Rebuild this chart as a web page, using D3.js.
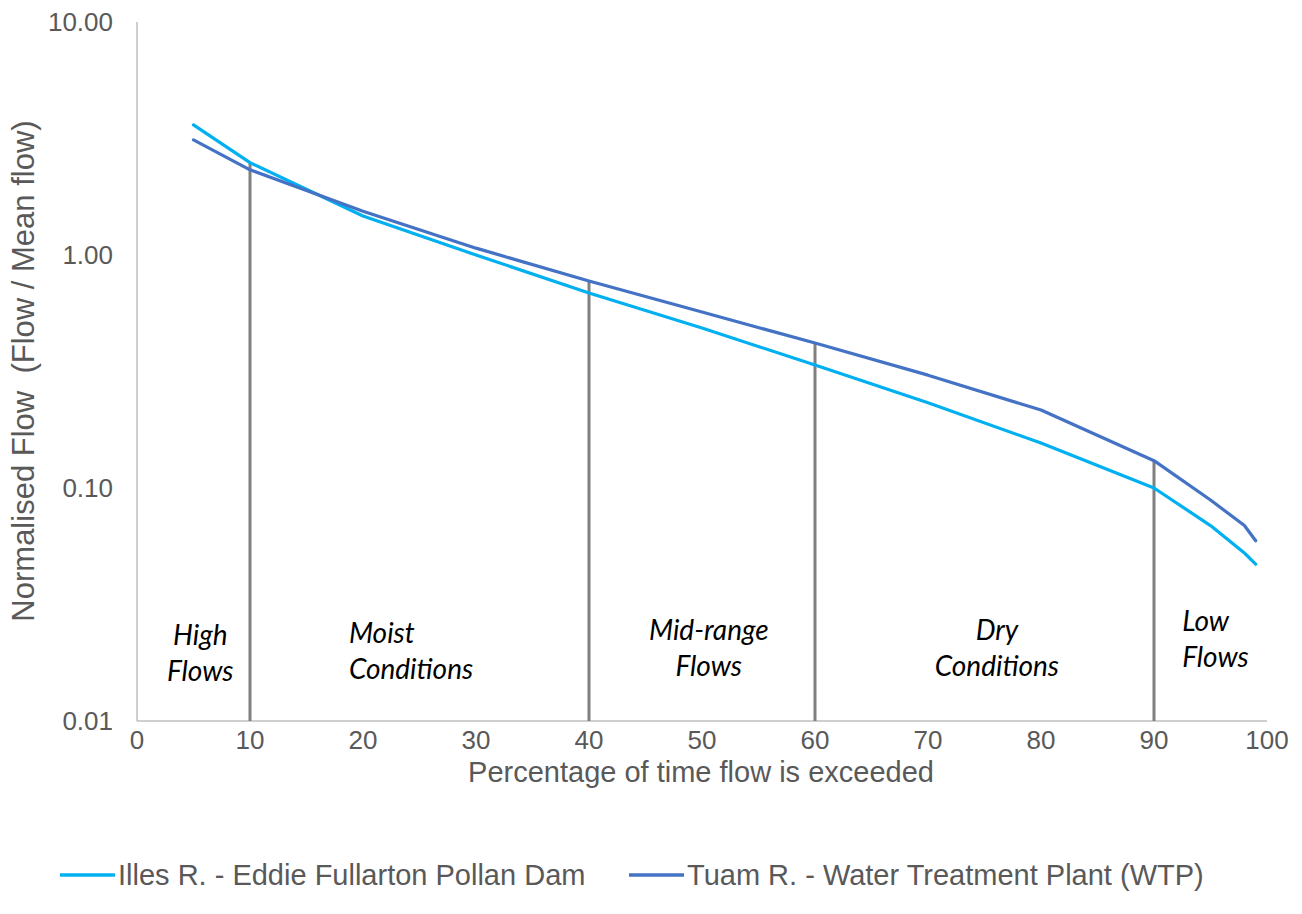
<!DOCTYPE html>
<html><head><meta charset="utf-8">
<script src="https://cdn.jsdelivr.net/npm/d3@7"></script>
<style>body{margin:0;background:#fff}svg{display:block}</style>
</head><body><svg id="c" width="1302" height="914"></svg>
<script>
const xPct = [5,10,20,30,40,50,60,70,80,90,95,98,99];
const illes = [3.62,2.49,1.47,1.0,0.687,0.486,0.337,0.232,0.156,0.100,0.069,0.0526,0.0471];
const tuam  = [3.12,2.32,1.54,1.07,0.773,0.569,0.419,0.305,0.216,0.131,0.0888,0.069,0.0594];
const seriesNames = ["Illes R. - Eddie Fullarton Pollan Dam","Tuam R. - Water Treatment Plant (WTP)"];
const seriesColors = ["#00B0F0","#4472C4"];
const xTicks = [0,10,20,30,40,50,60,70,80,90,100];
const yTicks = [0.01,0.1,1,10];
const dividers = [10,40,60,90];
const zoneLabels = [
  {x:5.6, y:0.0212, lines:["High","Flows"], anchor:"middle"},
  {x:18.75, y:0.0216, lines:["Moist","Conditions"], anchor:"start"},
  {x:50.6, y:0.0223, lines:["Mid-range","Flows"], anchor:"middle"},
  {x:76.1, y:0.0223, lines:["Dry","Conditions"], anchor:"middle"},
  {x:92.5, y:0.0244, lines:["Low","Flows"], anchor:"start"}
];

const svg = d3.select("#c");
const x = d3.scaleLinear().domain([0,100]).range([137,1267]);
const y = d3.scaleLog().domain([0.01,10]).range([721,22]);
const axisColor = "#bfbfbf", textColor = "#595959";
const sans = "Liberation Sans, Arial, sans-serif";

// axes lines
svg.append("line").attr("x1",x(0)).attr("x2",x(0)).attr("y1",y(10)).attr("y2",y(0.01)).attr("stroke",axisColor).attr("stroke-width",1.5);
svg.append("line").attr("x1",x(0)).attr("x2",x(100)).attr("y1",y(0.01)).attr("y2",y(0.01)).attr("stroke",axisColor).attr("stroke-width",1.5);

// tick labels
svg.append("g").selectAll("text").data(yTicks).join("text")
  .attr("x",113).attr("y",d=>y(d)).attr("dy","0.35em").attr("text-anchor","end")
  .attr("font-family",sans).attr("font-size",26).attr("fill",textColor)
  .text(d=>d3.format(".2f")(d));
svg.append("g").selectAll("text").data(xTicks).join("text")
  .attr("x",d=>x(d)).attr("y",740).attr("dy","0.35em").attr("text-anchor","middle")
  .attr("font-family",sans).attr("font-size",26).attr("fill",textColor)
  .text(d=>d);

// axis titles
svg.append("text").attr("x",701).attr("y",782).attr("text-anchor","middle")
  .attr("font-family",sans).attr("font-size",29).attr("fill",textColor)
  .text("Percentage of time flow is exceeded");
svg.append("text").attr("transform","translate(34,371) rotate(-90)").attr("text-anchor","middle")
  .attr("font-family",sans).attr("font-size",31).attr("fill",textColor)
  .style("white-space","pre")
  .text("Normalised Flow  (Flow / Mean flow)");

// dividers
dividers.forEach(d=>{
  const i = xPct.indexOf(d);
  const top = Math.max(illes[i], tuam[i]);
  svg.append("line").attr("x1",x(d)).attr("x2",x(d)).attr("y1",y(0.01)).attr("y2",y(top))
    .attr("stroke","#808080").attr("stroke-width",3);
});

// series
const line = d3.line().x(d=>x(d[0])).y(d=>y(d[1]));
[illes,tuam].forEach((s,k)=>{
  svg.append("path").datum(xPct.map((v,i)=>[v,s[i]])).attr("d",line)
    .attr("fill","none").attr("stroke",seriesColors[k]).attr("stroke-width",3.2)
    .attr("stroke-linejoin","round").attr("stroke-linecap","round");
});

// zone labels
zoneLabels.forEach(z=>{
  const t = svg.append("text").attr("text-anchor",z.anchor)
    .attr("font-family","Lato, Carlito, sans-serif").attr("font-style","italic").attr("font-size",28).attr("fill","#000");
  z.lines.forEach((l,i)=>{
    t.append("tspan").attr("x",x(z.x)).attr("y",y(z.y)+i*36).text(l);
  });
});

// legend
const legX = [60,629];
seriesNames.forEach((n,k)=>{
  svg.append("line").attr("x1",legX[k]).attr("x2",legX[k]+55).attr("y1",875).attr("y2",875)
    .attr("stroke",seriesColors[k]).attr("stroke-width",3.5);
  svg.append("text").attr("x",legX[k]+58).attr("y",875).attr("dy","0.35em")
    .attr("font-family",sans).attr("font-size",29).attr("fill",textColor)
    .text(n);
});
</script></body></html>
